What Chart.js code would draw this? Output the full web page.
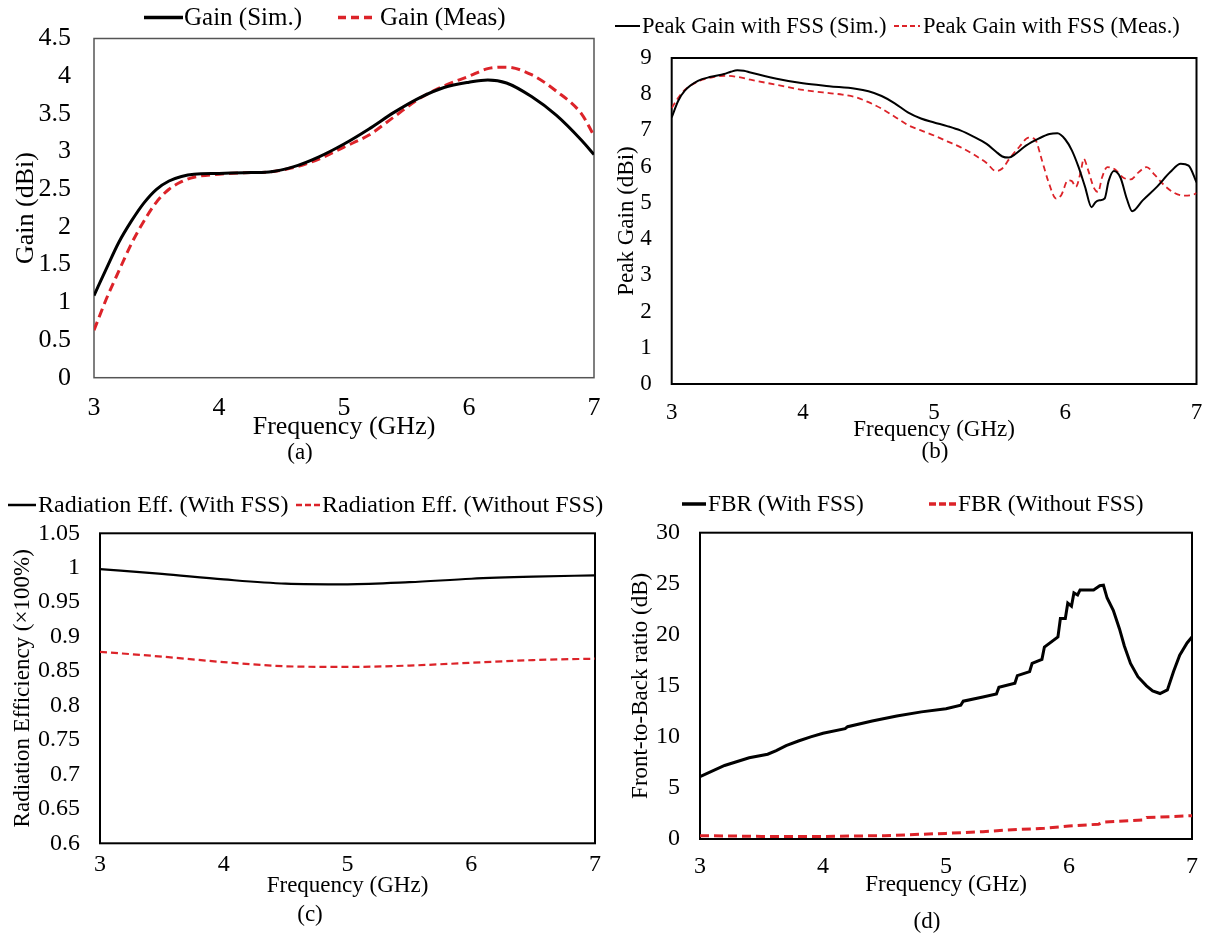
<!DOCTYPE html>
<html>
<head>
<meta charset="utf-8">
<script src="https://cdn.jsdelivr.net/npm/chart.js@4.4.0/dist/chart.umd.min.js"></script>
<style>
  body { margin: 0; background: #fff; }
  #page { position: relative; width: 1207px; height: 939px; overflow: hidden; background: #fff; }
  .panel { position: absolute; }
</style>
</head>
<body>
<div id="page">
  <div class="panel" style="left:0;top:0;width:600px;height:470px"><canvas id="chartA"></canvas></div>
  <div class="panel" style="left:600px;top:0;width:607px;height:470px"><canvas id="chartB"></canvas></div>
  <div class="panel" style="left:0;top:470px;width:612px;height:469px"><canvas id="chartC"></canvas></div>
  <div class="panel" style="left:600px;top:470px;width:607px;height:469px"><canvas id="chartD"></canvas></div>
</div>
<script>
// (a) gain, sim vs meas
const freqA = [3, 3.1, 3.2, 3.3, 3.4, 3.5, 3.6, 3.7, 3.8, 4.0, 4.2, 4.4, 4.6, 4.8, 5.0, 5.2, 5.4, 5.6, 5.8, 6.0, 6.15, 6.3, 6.5, 6.7, 6.9, 7.0];
const gainSimA = [1.09, 1.45, 1.8, 2.08, 2.32, 2.5, 2.61, 2.67, 2.70, 2.71, 2.72, 2.73, 2.80, 2.93, 3.10, 3.30, 3.52, 3.71, 3.85, 3.92, 3.95, 3.91, 3.73, 3.48, 3.15, 2.96];
const gainMeasA = [0.63, 1.05, 1.42, 1.78, 2.08, 2.33, 2.5, 2.6, 2.66, 2.70, 2.72, 2.73, 2.79, 2.90, 3.06, 3.22, 3.46, 3.70, 3.87, 4.0, 4.1, 4.12, 4.02, 3.8, 3.5, 3.21];

// (b) peak gain with FSS
const freqSimB = [3.0, 3.05, 3.1, 3.2, 3.3, 3.4, 3.45, 3.5, 3.55, 3.6, 3.8, 4.0, 4.2, 4.4, 4.5, 4.6, 4.7, 4.8, 4.9, 5.0, 5.1, 5.2, 5.3, 5.4, 5.47, 5.52, 5.57, 5.62, 5.7, 5.8, 5.88, 5.94, 6.0, 6.05, 6.1, 6.15, 6.2, 6.23, 6.26, 6.3, 6.33, 6.37, 6.42, 6.47, 6.51, 6.59, 6.7, 6.8, 6.88, 6.94, 7.0];
const peakSimB = [7.36, 7.82, 8.1, 8.37, 8.48, 8.56, 8.62, 8.66, 8.65, 8.6, 8.43, 8.3, 8.22, 8.15, 8.08, 7.95, 7.75, 7.5, 7.33, 7.22, 7.12, 7.0, 6.83, 6.63, 6.42, 6.28, 6.25, 6.35, 6.58, 6.78, 6.9, 6.92, 6.75, 6.45, 6.0, 5.45, 4.88, 5.02, 5.07, 5.12, 5.6, 5.88, 5.7, 5.1, 4.77, 5.07, 5.45, 5.85, 6.08, 6.03, 5.57];
const freqMeasB = [3.0, 3.05, 3.1, 3.2, 3.3, 3.4, 3.5, 3.6, 3.8, 4.0, 4.2, 4.3, 4.4, 4.5, 4.6, 4.7, 4.8, 4.9, 5.0, 5.1, 5.2, 5.3, 5.4, 5.47, 5.52, 5.58, 5.65, 5.72, 5.77, 5.82, 5.87, 5.93, 5.97, 6.02, 6.05, 6.08, 6.12, 6.14, 6.17, 6.22, 6.25, 6.28, 6.32, 6.38, 6.44, 6.5, 6.56, 6.62, 6.68, 6.75, 6.82, 6.9, 6.97, 7.0];
const peakMeasB = [7.62, 7.9, 8.12, 8.35, 8.46, 8.51, 8.48, 8.4, 8.26, 8.12, 8.03, 7.99, 7.92, 7.78, 7.6, 7.38, 7.15, 7.0, 6.86, 6.7, 6.54, 6.34, 6.1, 5.88, 5.95, 6.25, 6.55, 6.8, 6.75, 6.2, 5.6, 5.12, 5.22, 5.62, 5.6, 5.44, 5.9, 6.22, 5.95, 5.4, 5.3, 5.7, 5.99, 5.92, 5.7, 5.65, 5.85, 5.99, 5.78, 5.5, 5.3, 5.2, 5.22, 5.27];

// (c) radiation efficiency
const freqC = [3, 3.5, 4, 4.5, 5, 5.5, 6, 6.5, 7];
const effWithC = [0.998, 0.991, 0.983, 0.977, 0.976, 0.979, 0.984, 0.987, 0.989];
const effWithoutC = [0.878, 0.871, 0.863, 0.857, 0.856, 0.858, 0.862, 0.866, 0.868];

// (d) front-to-back ratio
const freqWithD = [3.0, 3.2, 3.4, 3.55, 3.62, 3.7, 3.8, 3.9, 4.0, 4.18, 4.2, 4.4, 4.6, 4.8, 5.0, 5.12, 5.14, 5.3, 5.41, 5.43, 5.56, 5.58, 5.68, 5.7, 5.78, 5.8, 5.91, 5.93, 5.97, 5.99, 6.02, 6.04, 6.07, 6.09, 6.2, 6.25, 6.28, 6.31, 6.36, 6.41, 6.45, 6.5, 6.56, 6.63, 6.68, 6.74, 6.8, 6.85, 6.9, 6.96, 7.0];
const fbrWithD = [6.1, 7.2, 7.95, 8.3, 8.65, 9.15, 9.6, 10.0, 10.35, 10.8, 11.0, 11.55, 12.05, 12.45, 12.75, 13.1, 13.5, 13.9, 14.2, 14.85, 15.25, 16.0, 16.4, 17.2, 17.6, 18.8, 19.8, 21.6, 21.6, 23.1, 22.8, 24.1, 23.9, 24.4, 24.4, 24.8, 24.85, 23.6, 22.4, 20.6, 18.9, 17.2, 15.9, 15.0, 14.5, 14.25, 14.6, 16.4, 18.0, 19.2, 19.8];
const freqWithoutD = [3.0, 3.5, 4.0, 4.5, 5.0, 5.3, 5.5, 5.8, 6.0, 6.24, 6.28, 6.6, 6.63, 7.0];
const fbrWithoutD = [0.33, 0.25, 0.25, 0.33, 0.55, 0.72, 0.88, 1.05, 1.27, 1.45, 1.65, 1.86, 2.1, 2.28];

const RED = "#dc2329";
const FONT = "'Liberation Serif', 'Times New Roman', serif";
Chart.defaults.color = "#000";
Chart.defaults.font.family = FONT;

const pts = (xs, ys) => xs.map((x, i) => ({ x, y: ys[i] }));
const fmt = v => String(+v.toFixed(2));

// frame round the plot, line legend on top, (a)/(b)/... caption below
function panelPlugin(p) {
  return {
    id: "panel",
    beforeDatasetsDraw(chart) {
      const { ctx, chartArea: a } = chart;
      ctx.save();
      ctx.strokeStyle = p.frameColor;
      ctx.lineWidth = p.frameWidth;
      ctx.strokeRect(a.left, a.top, a.right - a.left, a.bottom - a.top);
      ctx.restore();
    },
    afterDraw(chart) {
      const { ctx } = chart;
      ctx.save();
      chart.data.datasets.forEach((ds, i) => {
        const it = p.legend[i];
        ctx.beginPath();
        ctx.strokeStyle = ds.borderColor;
        ctx.lineWidth = it.lw;
        ctx.setLineDash(it.dash || []);
        ctx.moveTo(it.x0, p.legendY);
        ctx.lineTo(it.x1, p.legendY);
        ctx.stroke();
        ctx.setLineDash([]);
        ctx.fillStyle = "#000";
        ctx.font = p.legendFont + "px " + FONT;
        ctx.textBaseline = "middle";
        ctx.textAlign = "left";
        ctx.fillText(ds.label, it.tx, p.legendY + 1);
      });
      ctx.font = p.capFont + "px " + FONT;
      ctx.textAlign = "center";
      ctx.fillText(p.caption, p.capX, p.capY);
      ctx.restore();
    }
  };
}

function makeChart(id, g, datasets, yOpts, p) {
  new Chart(document.getElementById(id), {
    type: "line",
    data: { datasets },
    options: {
      responsive: true,
      maintainAspectRatio: false,
      animation: false,
      layout: { padding: { left: 0, top: g.T, right: g.W - g.R, bottom: 0 } },
      elements: { point: { radius: 0 } },
      plugins: { legend: { display: false }, tooltip: { enabled: false } },
      scales: {
        x: {
          type: "linear", min: 3, max: 7,
          afterFit: s => { s.height = g.H - g.B; s.paddingLeft = 0; s.paddingRight = 0; },
          ticks: { stepSize: 1, padding: g.xPad, font: { size: g.tick }, maxRotation: 0 },
          grid: { display: false, drawTicks: false },
          border: { display: false },
          title: { display: true, text: "Frequency (GHz)", font: { size: g.title }, padding: { top: 0, bottom: g.xTitlePad } }
        },
        y: {
          type: "linear", min: yOpts.min, max: yOpts.max,
          afterFit: s => { s.width = g.L; s.paddingTop = 0; s.paddingBottom = 0; },
          ticks: { stepSize: yOpts.step, padding: g.yPad, font: { size: g.tick }, callback: fmt },
          grid: { display: false, drawTicks: false },
          border: { display: false },
          title: { display: true, text: yOpts.title, font: { size: g.title }, padding: { top: g.yTitlePad, bottom: 0 } }
        }
      }
    },
    plugins: [panelPlugin(p)]
  });
}

const line = (label, xs, ys, color, width, dash, smooth) => ({
  label, data: pts(xs, ys), borderColor: color, borderWidth: width, borderDash: dash,
  fill: false, cubicInterpolationMode: smooth ? "monotone" : "default", tension: 0
});

makeChart("chartA",
  { W: 600, H: 470, L: 94, R: 594, T: 38.5, B: 377.7, tick: 26, title: 26, xPad: 14.7, yPad: 23, xTitlePad: 27.4, yTitlePad: 10.4 },
  [line("Gain (Sim.)", freqA, gainSimA, "#000", 3, [], true),
   line("Gain (Meas)", freqA, gainMeasA, RED, 3, [9, 5], true)],
  { min: 0, max: 4.5, step: 0.5, title: "Gain (dBi)" },
  { frameColor: "#555", frameWidth: 1.5, legendY: 17.5, legendFont: 25,
    legend: [{ x0: 144, x1: 183, tx: 184, lw: 3.5 }, { x0: 338, x1: 374, tx: 380, lw: 3.5, dash: [8, 5] }],
    caption: "(a)", capX: 300, capY: 453, capFont: 23 });

makeChart("chartB",
  { W: 607, H: 470, L: 71.7, R: 596.5, T: 58, B: 384, tick: 23, title: 23, xPad: 15.2, yPad: 20, xTitlePad: 26.2, yTitlePad: 13.2 },
  [line("Peak Gain with FSS (Sim.)", freqSimB, peakSimB, "#000", 2, [], true),
   line("Peak Gain with FSS (Meas.)", freqMeasB, peakMeasB, RED, 1.8, [6, 4], true)],
  { min: 0, max: 9, step: 1, title: "Peak Gain (dBi)" },
  { frameColor: "#000", frameWidth: 2, legendY: 26, legendFont: 22.5,
    legend: [{ x0: 15, x1: 40, tx: 42, lw: 2 }, { x0: 294, x1: 320, tx: 323, lw: 1.8, dash: [5, 3] }],
    caption: "(b)", capX: 335, capY: 452, capFont: 23 });

makeChart("chartC",
  { W: 612, H: 469, L: 100, R: 595, T: 63.3, B: 373.3, tick: 24, title: 23, xPad: 7, yPad: 20, xTitlePad: 39.2, yTitlePad: 9.2 },
  [line("Radiation Eff. (With FSS)", freqC, effWithC, "#000", 2.2, [], true),
   line("Radiation Eff. (Without FSS)", freqC, effWithoutC, RED, 2.2, [7, 4], true)],
  { min: 0.6, max: 1.05, step: 0.05, title: "Radiation Efficiency (×100%)" },
  { frameColor: "#000", frameWidth: 2, legendY: 35, legendFont: 24,
    legend: [{ x0: 8, x1: 36, tx: 38, lw: 2.5 }, { x0: 296, x1: 320, tx: 322, lw: 2.5, dash: [6, 3] }],
    caption: "(c)", capX: 310, capY: 445, capFont: 23 });

makeChart("chartD",
  { W: 607, H: 469, L: 100, R: 592, T: 62.7, B: 369, tick: 24, title: 23, xPad: 13.6, yPad: 20, xTitlePad: 40.2, yTitlePad: 27.2 },
  [line("FBR (With FSS)", freqWithD, fbrWithD, "#000", 3, [], false),
   line("FBR (Without FSS)", freqWithoutD, fbrWithoutD, RED, 3, [9, 5], false)],
  { min: 0, max: 30, step: 5, title: "Front-to-Back ratio (dB)" },
  { frameColor: "#000", frameWidth: 2, legendY: 34, legendFont: 23.3,
    legend: [{ x0: 82, x1: 106, tx: 108, lw: 3.5 }, { x0: 329, x1: 356, tx: 358, lw: 3.5, dash: [7, 3] }],
    caption: "(d)", capX: 327, capY: 452, capFont: 23 });
</script>
</body>
</html>
